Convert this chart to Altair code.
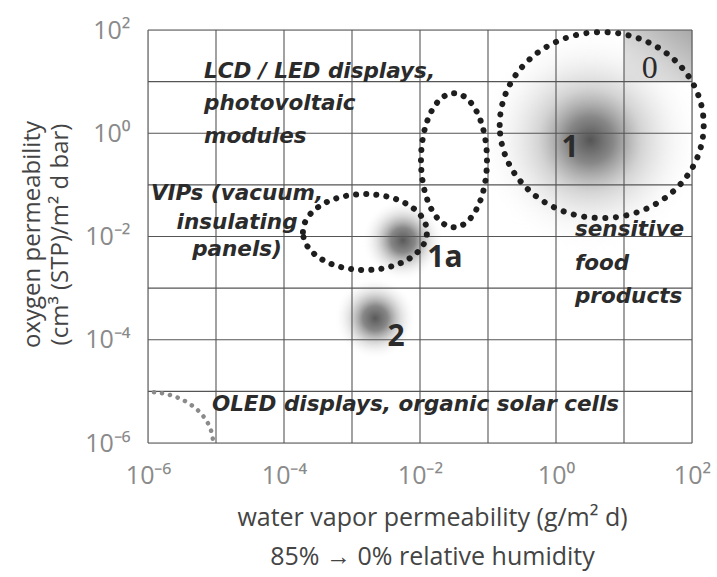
import altair as alt
import pandas as pd

# ---------------- data ----------------
decades = [1e-6, 1e-5, 1e-4, 1e-3, 1e-2, 1e-1, 1e0, 1e1, 1e2]

# shaded clusters (centres)
blob_names = ["1", "1a", "2"]
blob_x = [3.2, 0.0056, 0.0022]
blob_y = [0.74, 0.0085, 2.6e-4]

# class 0 corner cell
cell_x = [10.0]
cell_x2 = [100.0]
cell_y = [10.0]
cell_y2 = [100.0]

# dotted application regions (centres)
region_names = ["food", "lcd", "vip", "oled"]
region_x = [4.7, 0.0316, 0.00155, 1e-6]
region_y = [1.44, 0.30, 0.0122, 1e-6]

# italic annotations, left aligned
left_text = ["LCD / LED displays,", "photovoltaic", "modules",
             "sensitive", "food", "products",
             "OLED displays, organic solar cells"]
left_x = [6.67e-6, 6.67e-6, 6.67e-6, 1.9, 1.9, 1.9, 8.7e-6]
left_y = [15.3, 3.68, 0.844, 0.0133, 0.00292, 6.7e-4, 5.4e-6]

# italic annotations, centred
center_text = ["VIPs (vacuum,", "insulating", "panels)"]
center_x = [2.04e-5, 2.04e-5, 2.04e-5]
center_y = [0.0664, 0.0182, 0.00545]

# class numbers
num_text = ["1", "1a", "2"]
num_x = [1.61, 0.0233, 0.00444]
num_y = [0.516, 0.0038, 1.12e-4]
zero_text = ["0"]
zero_x = [24.0]
zero_y = [18.4]

# ---------------- scales ----------------
xs = alt.Scale(type="log", domain=[1e-6, 1e2], nice=False)
ys = alt.Scale(type="log", domain=[1e-6, 1e2], nice=False)

sup = {"-6": "10\u207b\u2076", "-4": "10\u207b\u2074", "-2": "10\u207b\u00b2",
       "0": "10\u2070", "2": "10\u00b2"}
label_expr = ("round(log(datum.value)/LN10) == -6 ? '%s' : round(log(datum.value)/LN10) == -4 ? '%s' : "
              "round(log(datum.value)/LN10) == -2 ? '%s' : round(log(datum.value)/LN10) == 0 ? '%s' : "
              "round(log(datum.value)/LN10) == 2 ? '%s' : ''") % (sup["-6"], sup["-4"], sup["-2"], sup["0"], sup["2"])

x_axis = alt.Axis(values=decades, labelExpr=label_expr, grid=False, ticks=False, domain=False,
                  labelFont="Open Sans", labelFontSize=25, labelColor="#8a8a8a", labelPadding=20,
                  labelFlush=False, labelOverlap=False,
                  title=["water vapor permeability (g/m\u00b2 d)", "85% \u2192 0% relative humidity"],
                  titleFont="Open Sans", titleFontSize=25, titleFontWeight="normal", titleColor="#444",
                  titleLineHeight=39, titleBaseline="top", titleY=62, titleX=284, titleAlign="center")
y_axis = alt.Axis(values=decades, labelExpr=label_expr, grid=False, ticks=False, domain=False,
                  labelFont="Open Sans", labelFontSize=25, labelColor="#8a8a8a", labelPadding=18,
                  labelFlush=False, labelOverlap=False,
                  title=["oxygen permeability", "(cm\u00b3 (STP)/m\u00b2 d bar)"],
                  titleFont="Open Sans", titleFontSize=24, titleFontWeight="normal", titleColor="#444",
                  titleLineHeight=28, titleBaseline="top", titleAngle=270, titleX=-128, titleY=204,
                  titleAlign="center")

# ---------------- layers ----------------
cell_df = pd.DataFrame({"x": cell_x, "x2": cell_x2, "y": cell_y, "y2": cell_y2})
cell = alt.Chart(cell_df).mark_rect(
    fill={"gradient": "linear", "x1": 1, "y1": 0, "x2": 0, "y2": 1,
          "stops": [{"offset": 0, "color": "#a8a8a8"}, {"offset": 0.5, "color": "#cfcfcf"},
                    {"offset": 1, "color": "#ececec"}]}
).encode(x=alt.X("x:Q", scale=xs, axis=x_axis), x2="x2:Q",
         y=alt.Y("y:Q", scale=ys, axis=y_axis), y2="y2:Q")

blob_df = pd.DataFrame({"name": blob_names, "x": blob_x, "y": blob_y})

def radial(stops):
    return {"gradient": "radial", "x1": 0.5, "y1": 0.5, "r1": 0, "x2": 0.5, "y2": 0.5, "r2": 0.5,
            "stops": [{"offset": o, "color": c} for o, c in stops]}

big_blob = alt.Chart(blob_df).transform_filter(alt.datum.name == "1").mark_point(
    shape="circle", filled=True, size=230 * 230, opacity=1, strokeWidth=0, clip=True,
    fill=radial([(0, "rgba(75,75,75,0.95)"), (0.2, "rgba(105,105,105,0.8)"),
                 (0.45, "rgba(160,160,160,0.45)"), (0.75, "rgba(215,215,215,0.18)"),
                 (1, "rgba(255,255,255,0)")])
).encode(x=alt.X("x:Q", scale=xs), y=alt.Y("y:Q", scale=ys))

small_blobs = alt.Chart(blob_df).transform_filter(alt.datum.name != "1").mark_point(
    shape="circle", filled=True, size=82 * 82, opacity=1, strokeWidth=0,
    fill=radial([(0, "rgba(80,80,80,0.95)"), (0.3, "rgba(105,105,105,0.8)"),
                 (0.65, "rgba(175,175,175,0.35)"), (1, "rgba(255,255,255,0)")])
).encode(x=alt.X("x:Q", scale=xs), y=alt.Y("y:Q", scale=ys))

grid_df = pd.DataFrame({"v": decades})
vgrid = alt.Chart(grid_df).mark_rule(color="#555", strokeWidth=1.1).encode(x=alt.X("v:Q", scale=xs))
hgrid = alt.Chart(grid_df).mark_rule(color="#555", strokeWidth=1.1).encode(y=alt.Y("v:Q", scale=ys))

region_df = pd.DataFrame({"name": region_names, "x": region_x, "y": region_y})

def ellipse(k):
    return "M -1 0 A 1 %s 0 1 1 1 0 A 1 %s 0 1 1 -1 0 Z" % (k, k)

def dotted(name, rx, ry, color, width, gap, clip=False):
    return alt.Chart(region_df).transform_filter(alt.datum.name == name).mark_point(
        shape=ellipse(round(ry / rx, 4)), size=(2 * rx) ** 2, filled=False, opacity=1,
        stroke=color, strokeWidth=width, strokeCap="round", strokeDash=[0.1, gap], clip=clip
    ).encode(x=alt.X("x:Q", scale=xs), y=alt.Y("y:Q", scale=ys))

food = dotted("food", 102, 93, "#1e1e1e", 6, 10.5)
lcd = dotted("lcd", 33, 67, "#1e1e1e", 6, 10)
vip = dotted("vip", 62, 38, "#1e1e1e", 6, 10)
oled = dotted("oled", 65, 51, "#8a8a8a", 4.5, 8, clip=True)

TXT_FONT = "DejaVu Sans"
TXT_SIZE = 21.5
left_df = pd.DataFrame({"t": left_text, "x": left_x, "y": left_y})
left_lbl = alt.Chart(left_df).mark_text(
    align="left", baseline="middle", font=TXT_FONT, fontSize=TXT_SIZE, fontStyle="italic",
    fontWeight="bold", color="#2b2b2b"
).encode(x=alt.X("x:Q", scale=xs), y=alt.Y("y:Q", scale=ys), text="t:N")

center_df = pd.DataFrame({"t": center_text, "x": center_x, "y": center_y})
center_lbl = alt.Chart(center_df).mark_text(
    align="center", baseline="middle", font=TXT_FONT, fontSize=TXT_SIZE, fontStyle="italic",
    fontWeight="bold", color="#2b2b2b"
).encode(x=alt.X("x:Q", scale=xs), y=alt.Y("y:Q", scale=ys), text="t:N")

num_df = pd.DataFrame({"t": num_text, "x": num_x, "y": num_y})
num_lbl = alt.Chart(num_df).mark_text(
    align="center", baseline="middle", font="Open Sans", fontSize=30, fontWeight="bold",
    color="#2b2b2b"
).encode(x=alt.X("x:Q", scale=xs), y=alt.Y("y:Q", scale=ys), text="t:N")

zero_df = pd.DataFrame({"t": zero_text, "x": zero_x, "y": zero_y})
zero_lbl = alt.Chart(zero_df).mark_text(
    align="center", baseline="middle", font="Liberation Serif", fontSize=32, color="#2b2b2b"
).encode(x=alt.X("x:Q", scale=xs), y=alt.Y("y:Q", scale=ys), text="t:N")

chart = alt.layer(
    cell, big_blob, small_blobs, vgrid, hgrid, food, lcd, vip, oled,
    left_lbl, center_lbl, num_lbl, zero_lbl
).properties(
    width=544, height=413, autosize=alt.AutoSizeParams(type="none"),
    padding={"left": 148, "top": 30, "right": 25, "bottom": 134}
).configure_view(stroke="#333", strokeWidth=2).configure(background="white")

chart.save("out.html", embed_options={"renderer": "svg", "actions": False})
